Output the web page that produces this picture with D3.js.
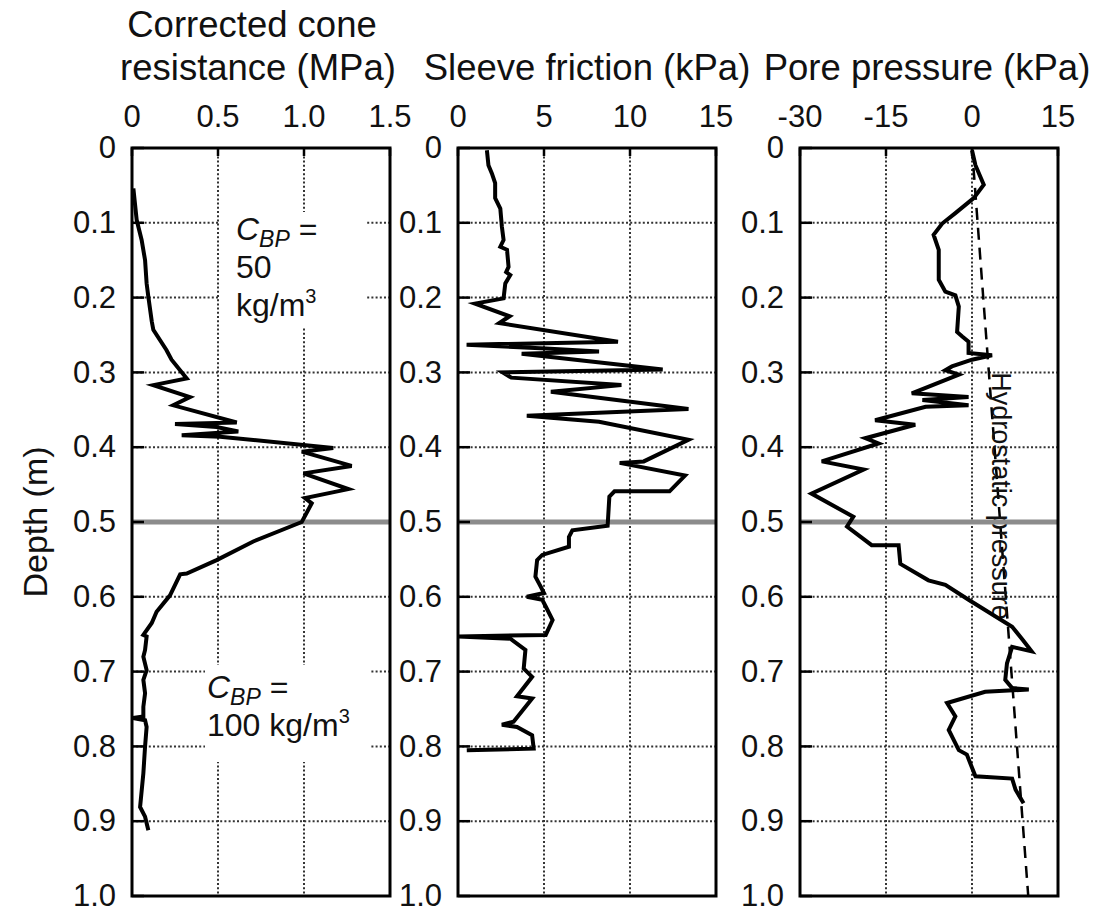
<!DOCTYPE html>
<html>
<head>
<meta charset="utf-8">
<script src="https://cdn.jsdelivr.net/npm/d3@7"></script>
<style>
body{margin:0;background:#fff;}
text{font-family:"Liberation Sans",Arial,sans-serif;fill:#111;}
</style>
</head>
<body>
<script>
// values, depth in m
var coneDepth = [0.054,0.096,0.123,0.150,0.181,0.199,0.232,0.243,0.270,0.283,0.308,0.317,0.333,0.344,0.367,0.369,0.373,0.379,0.384,0.386,0.401,0.406,0.425,0.435,0.456,0.468,0.475,0.500,0.526,0.551,0.569,0.570,0.598,0.620,0.635,0.651,0.653,0.671,0.680,0.698,0.711,0.729,0.747,0.760,0.762,0.765,0.774,0.800,0.836,0.881,0.894,0.912];
var coneVal   = [0.008,0.027,0.056,0.076,0.085,0.095,0.115,0.124,0.200,0.230,0.318,0.124,0.337,0.240,0.609,0.250,0.492,0.618,0.289,0.512,1.170,0.987,1.277,0.997,1.258,1.006,1.045,0.987,0.705,0.492,0.318,0.280,0.221,0.143,0.115,0.066,0.085,0.076,0.066,0.085,0.066,0.076,0.066,0.066,0.005,0.076,0.085,0.076,0.066,0.047,0.076,0.095];

var frictionDepth = [0.003,0.023,0.034,0.047,0.067,0.081,0.105,0.123,0.132,0.136,0.159,0.166,0.170,0.181,0.201,0.208,0.225,0.234,0.259,0.263,0.268,0.272,0.275,0.296,0.300,0.307,0.317,0.326,0.349,0.358,0.366,0.390,0.419,0.421,0.438,0.459,0.459,0.466,0.505,0.511,0.520,0.533,0.544,0.551,0.573,0.586,0.595,0.600,0.604,0.613,0.631,0.651,0.653,0.656,0.671,0.696,0.707,0.733,0.736,0.767,0.771,0.774,0.785,0.803,0.805];
var frictionVal   = [1.68,1.77,1.97,2.16,2.16,2.46,2.55,2.65,2.46,2.85,2.94,2.80,3.04,2.75,2.65,0.99,3.00,2.40,9.30,0.50,5.10,8.20,3.70,11.90,2.60,3.10,9.50,5.40,13.40,4.00,8.20,13.40,10.80,9.40,13.20,12.30,9.10,8.80,8.70,6.65,6.45,6.45,4.90,4.60,4.50,4.80,5.00,4.00,4.90,5.10,5.50,5.10,0.02,3.04,3.92,3.82,4.31,3.43,4.31,3.23,2.55,3.43,4.31,4.40,0.51];

var poreDepth = [0.003,0.023,0.049,0.067,0.087,0.101,0.116,0.136,0.176,0.192,0.197,0.212,0.246,0.252,0.259,0.274,0.277,0.283,0.292,0.297,0.303,0.328,0.333,0.337,0.344,0.346,0.364,0.370,0.388,0.395,0.419,0.430,0.462,0.493,0.506,0.531,0.531,0.556,0.578,0.584,0.604,0.640,0.658,0.673,0.667,0.689,0.711,0.722,0.724,0.727,0.742,0.760,0.778,0.805,0.811,0.840,0.843,0.858,0.876];
var poreVal   = [0.0,0.6,2.05,0.3,-2.9,-5.2,-6.7,-5.8,-5.8,-4.65,-2.9,-2.3,-2.6,-1.7,-0.6,-0.6,3.5,0.0,-3.5,-4.65,-2.3,-10.5,-0.6,-8.65,-0.6,-8.1,-16.9,-9.9,-18.6,-16.3,-26.2,-18.9,-28.0,-20.7,-21.8,-17.5,-12.8,-12.5,-7.6,-4.65,-0.6,7.0,8.9,10.4,7.0,6.1,5.8,7.0,9.9,2.3,-4.35,-2.9,-4.06,-2.3,-0.9,0.6,7.0,7.6,9.0];

var hydroDepth = [0, 1.0];
var hydroVal   = [0, 9.81];

var depthTicks = [0,0.1,0.2,0.3,0.4,0.5,0.6,0.7,0.8,0.9,1.0];
var coneTicks = [0,0.5,1.0,1.5];
var coneTickLabels = ["0","0.5","1.0","1.5"];
var frictionTicks = [0,5,10,15];
var frictionTickLabels = ["0","5","10","15"];
var poreTicks = [-30,-15,0,15];
var poreTickLabels = ["-30","-15","0","15"];
var boundaryDepth = 0.5;

var W = 1097, H = 910;
var top_y = 148, bot_y = 896, pw = 258;

var svg = d3.select("body").append("svg")
	.attr("width", W)
	.attr("height", H);

var y = d3.scaleLinear().domain([0, 1]).range([top_y, bot_y]);

function zip(ds, vs)
{
	var out = [];
	for(var i = 0; i < ds.length; i++)
		out.push([vs[i], ds[i]]);
	return out;
}

var panel = function(left, ticks, labels, depthVals, vals, extra)
{
	var x = d3.scaleLinear().domain([ticks[0], ticks[ticks.length-1]]).range([left, left+pw]);
	var g = svg.append("g");

	// dotted grid
	g.selectAll("line.gx").data(ticks.slice(1, -1)).enter().append("line")
		.attr("x1", function(d){return x(d);}).attr("x2", function(d){return x(d);})
		.attr("y1", top_y).attr("y2", bot_y)
		.attr("stroke", "#333").attr("stroke-width", 2).attr("stroke-dasharray", "2,2.2");
	g.selectAll("line.gy").data(depthTicks.slice(1, -1)).enter().append("line")
		.attr("x1", left).attr("x2", left+pw)
		.attr("y1", function(d){return y(d);}).attr("y2", function(d){return y(d);})
		.attr("stroke", "#333").attr("stroke-width", 2).attr("stroke-dasharray", "2,2.2");

	if(extra) extra(g, x);

	// layer boundary
	g.append("line")
		.attr("x1", left).attr("x2", left+pw)
		.attr("y1", y(boundaryDepth)).attr("y2", y(boundaryDepth))
		.attr("stroke", "#8c8c8c").attr("stroke-width", 5);

	var line = d3.line().x(function(d){return x(d[0]);}).y(function(d){return y(d[1]);});
	g.append("path")
		.datum(zip(depthVals, vals))
		.attr("d", line)
		.attr("fill", "none").attr("stroke", "#000").attr("stroke-width", 4)
		.attr("stroke-linejoin", "miter");

	// ticks
	g.selectAll("line.ty").data(depthTicks).enter().append("line")
		.attr("x1", left).attr("x2", left+12)
		.attr("y1", function(d){return y(d);}).attr("y2", function(d){return y(d);})
		.attr("stroke", "#000").attr("stroke-width", 2.5);
	g.selectAll("line.tx").data(ticks).enter().append("line")
		.attr("x1", function(d){return x(d);}).attr("x2", function(d){return x(d);})
		.attr("y1", top_y).attr("y2", top_y+8)
		.attr("stroke", "#000").attr("stroke-width", 2.5);

	g.append("rect")
		.attr("x", left).attr("y", top_y).attr("width", pw).attr("height", bot_y-top_y)
		.attr("fill", "none").attr("stroke", "#000").attr("stroke-width", 3);

	g.selectAll("text.xl").data(ticks).enter().append("text")
		.attr("x", function(d){return x(d);}).attr("y", 127)
		.attr("text-anchor", "middle").attr("font-size", 31)
		.text(function(d, i){return labels[i];});
	g.selectAll("text.yl").data(depthTicks).enter().append("text")
		.attr("x", left-16).attr("y", function(d){return y(d);})
		.attr("dy", "0.33em")
		.attr("text-anchor", "end").attr("font-size", 31)
		.text(function(d){return d == 0 ? "0" : d.toFixed(1);});
	return x;
}

var cbp = function(g, tx, ty, lines)
{
	var t = g.append("text").attr("x", tx).attr("y", ty).attr("font-size", 32);
	t.append("tspan").attr("font-style", "italic").text("C");
	t.append("tspan").attr("font-style", "italic").attr("font-size", 23).attr("dy", 7).text("BP");
	t.append("tspan").attr("dy", -7).text(" =");
	for(var i = 0; i < lines.length; i++)
	{
		var l = g.append("text").attr("x", tx).attr("y", ty + 38*(i+1)).attr("font-size", 32);
		l.append("tspan").text(lines[i]);
		if(lines[i].indexOf("kg/m") != -1)
			l.append("tspan").attr("font-size", 20).attr("dy", -13).text("3");
	}
}

panel(132, coneTicks, coneTickLabels, coneDepth, coneVal, function(g, x){
	g.append("rect").attr("x", 220).attr("y", 212).attr("width", 145).attr("height", 116).attr("fill", "#fff");
	g.append("rect").attr("x", 205).attr("y", 665).attr("width", 165).attr("height", 97).attr("fill", "#fff");
	cbp(g, 236, 240, ["50", "kg/m"]);
	cbp(g, 207, 698, ["100 kg/m"]);
});

panel(458, frictionTicks, frictionTickLabels, frictionDepth, frictionVal);

panel(800, poreTicks, poreTickLabels, poreDepth, poreVal, function(g, x){
	g.append("path")
		.datum(zip(hydroDepth, hydroVal))
		.attr("d", d3.line().x(function(d){return x(d[0]);}).y(function(d){return y(d[1]);}))
		.attr("fill", "none").attr("stroke", "#000").attr("stroke-width", 2.5)
		.attr("stroke-dasharray", "12,8");
	g.append("text")
		.attr("transform", "translate(992,496) rotate(90)")
		.attr("text-anchor", "middle").attr("font-size", 27)
		.text("Hydrostatic pressure");
});

// titles
svg.append("text").attr("x", 252).attr("y", 37).attr("text-anchor", "middle").attr("font-size", 36.5).text("Corrected cone");
svg.append("text").attr("x", 258).attr("y", 80).attr("text-anchor", "middle").attr("font-size", 36.5).text("resistance (MPa)");
svg.append("text").attr("x", 587).attr("y", 80).attr("text-anchor", "middle").attr("font-size", 36.5).text("Sleeve friction (kPa)");
svg.append("text").attr("x", 927).attr("y", 80).attr("text-anchor", "middle").attr("font-size", 36.5).text("Pore pressure (kPa)");

svg.append("text")
	.attr("transform", "translate(47,522) rotate(-90)")
	.attr("text-anchor", "middle").attr("font-size", 34)
	.text("Depth (m)");
</script>
</body>
</html>
